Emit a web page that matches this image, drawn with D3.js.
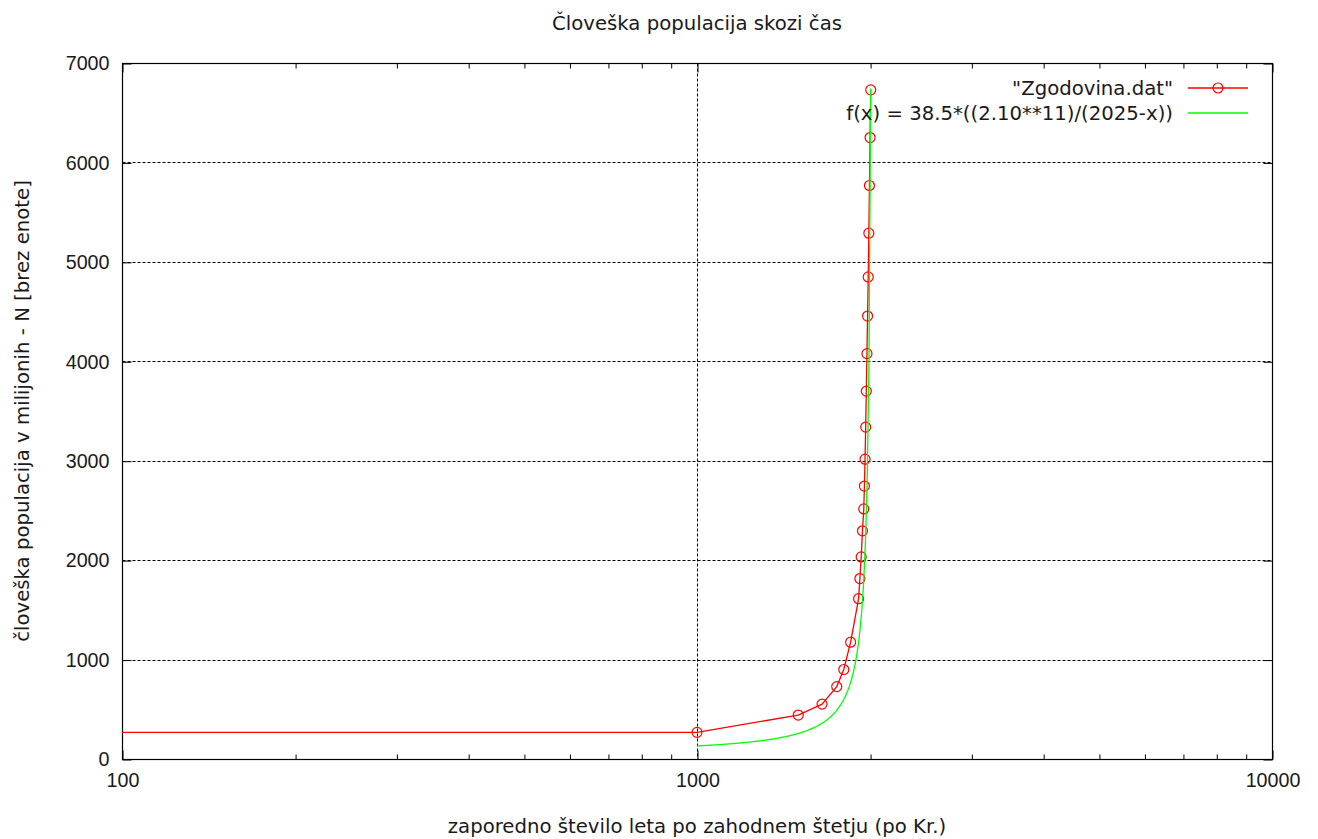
<!DOCTYPE html>
<html>
<head>
<meta charset="utf-8">
<script src="https://cdn.jsdelivr.net/npm/d3@7"></script>
<style>
  html, body { margin: 0; padding: 0; background: #fff; }
  svg { display: block; font-family: "DejaVu Sans", sans-serif; }
</style>
</head>
<body>
<svg id="chart" width="1318" height="839"></svg>
<script>
// Historical world population (millions) by year, from Zgodovina.dat
const years = [1, 1000, 1500, 1650, 1750, 1800, 1850, 1910, 1920, 1930, 1940,
               1950, 1955, 1960, 1965, 1970, 1975, 1980, 1985, 1990, 1995, 2000, 2005];
const population = [268, 268, 442, 552, 728, 900, 1175, 1612, 1815, 2032, 2295,
                     2515, 2745, 3015, 3338, 3700, 4077, 4455, 4848, 5288, 5768, 6250, 6730];

// Hyperbolic growth model and the interval it is sampled over
const fitCoef = 38.5, fitBase = 2.10, fitExp = 11, fitYear = 2025;
const fitStart = 1000, fitEnd = 2005, fitSamples = 100;
const fitLabel = "f(x) = 38.5*((2.10**11)/(2025-x))";
const dataLabel = "\"Zgodovina.dat\"";

const xDomain = [100, 10000];
const yDomain = [0, 7000];
const yTicks = [0, 1000, 2000, 3000, 4000, 5000, 6000, 7000];
const xMajorTicks = [100, 1000, 10000];

const title = "Človeška populacija skozi čas";
const xTitle = "zaporedno število leta po zahodnem štetju (po Kr.)";
const yTitle = "človeška populacija v milijonih - N [brez enote]";

const W = 1318, H = 839;
const plot = { left: 122, right: 1272, top: 63, bottom: 759 };
const fontSize = 19.7;

const svg = d3.select("#chart");

const x = d3.scaleLog().domain(xDomain).range([plot.left, plot.right]);
const y = d3.scaleLinear().domain(yDomain).range([plot.bottom, plot.top]);

const f = t => fitCoef * Math.pow(fitBase, fitExp) / (fitYear - t);

// clip region for the plotted curves
svg.append("defs").append("clipPath").attr("id", "plotClip")
  .append("rect")
  .attr("x", plot.left).attr("y", plot.top)
  .attr("width", plot.right - plot.left).attr("height", plot.bottom - plot.top);

const g = svg.append("g").attr("transform", "translate(0.5,0.5)");

// horizontal grid lines
g.append("g").selectAll("line")
  .data(yTicks.filter(v => v > yDomain[0] && v < yDomain[1]))
  .join("line")
  .attr("x1", plot.left).attr("x2", plot.right)
  .attr("y1", d => Math.round(y(d))).attr("y2", d => Math.round(y(d)))
  .attr("stroke", "#000").attr("stroke-width", 1)
  .attr("stroke-dasharray", "3,2");

// vertical grid lines at interior decades
g.append("g").selectAll("line")
  .data(xMajorTicks.filter(v => v > xDomain[0] && v < xDomain[1]))
  .join("line")
  .attr("x1", d => Math.round(x(d))).attr("x2", d => Math.round(x(d)))
  .attr("y1", plot.top).attr("y2", plot.bottom)
  .attr("stroke", "#000").attr("stroke-width", 1)
  .attr("stroke-dasharray", "3,2");

// axes: ticks point inward and are mirrored on the opposite side
const majorLen = 9, minorLen = 5;
const minorTicks = x.ticks().filter(v => !xMajorTicks.includes(v));

function tickAxis(axisGen, transform) {
  const a = g.append("g").attr("transform", transform).call(axisGen);
  a.select(".domain").remove();
  a.selectAll("line").attr("stroke", "#000").attr("stroke-width", 1);
  return a;
}

// bottom
const xb = tickAxis(d3.axisBottom(x).tickValues(xMajorTicks).tickSize(-majorLen)
  .tickPadding(14).tickFormat(d3.format("d")), `translate(0,${plot.bottom})`);
xb.selectAll("text").attr("font-size", fontSize).attr("fill", "#1a1a1a");
tickAxis(d3.axisBottom(x).tickValues(minorTicks).tickSize(-minorLen).tickFormat(""),
  `translate(0,${plot.bottom})`);
// top
tickAxis(d3.axisTop(x).tickValues(xMajorTicks).tickSize(-majorLen).tickFormat(""),
  `translate(0,${plot.top})`);
tickAxis(d3.axisTop(x).tickValues(minorTicks).tickSize(-minorLen).tickFormat(""),
  `translate(0,${plot.top})`);
// left
const yl = tickAxis(d3.axisLeft(y).tickValues(yTicks).tickSize(-majorLen)
  .tickPadding(13).tickFormat(d3.format("d")), `translate(${plot.left},0)`);
yl.selectAll("text").attr("font-size", fontSize).attr("fill", "#1a1a1a");
// right
tickAxis(d3.axisRight(y).tickValues(yTicks).tickSize(-majorLen).tickFormat(""),
  `translate(${plot.right},0)`);

// border
g.append("rect")
  .attr("x", plot.left).attr("y", plot.top)
  .attr("width", plot.right - plot.left).attr("height", plot.bottom - plot.top)
  .attr("fill", "none").attr("stroke", "#000").attr("stroke-width", 1.2);

// data series
const pts = years.map((yr, i) => [yr, population[i]]);
const line = d3.line().x(d => x(d[0])).y(d => y(d[1]));
const series = svg.append("g").attr("clip-path", "url(#plotClip)");

series.append("path").datum(pts)
  .attr("d", line)
  .attr("fill", "none").attr("stroke", "#ff0000").attr("stroke-width", 1.3);

series.append("g").selectAll("circle").data(pts).join("circle")
  .attr("cx", d => x(d[0])).attr("cy", d => y(d[1])).attr("r", 5)
  .attr("fill", "none").attr("stroke", "#ff0000").attr("stroke-width", 1.2);

// model curve, sampled evenly on the log axis
const lx0 = Math.log10(fitStart), lx1 = Math.log10(fitEnd);
const fitPts = d3.range(fitSamples).map(i => {
  const t = Math.pow(10, lx0 + (lx1 - lx0) * i / (fitSamples - 1));
  return [t, f(t)];
});
series.append("path").datum(fitPts)
  .attr("d", line)
  .attr("fill", "none").attr("stroke", "#00ff00").attr("stroke-width", 1.3);

// legend
const key = svg.append("g");
const keyTextX = 1173, keySampleX0 = 1188, keySampleX1 = 1248;
const keyRows = [
  { label: dataLabel, color: "#ff0000", marker: true, yPos: 88 },
  { label: fitLabel, color: "#00ff00", marker: false, yPos: 113 }
];
keyRows.forEach(r => {
  key.append("text")
    .attr("x", keyTextX).attr("y", r.yPos).attr("dy", "0.35em")
    .attr("text-anchor", "end").attr("font-size", fontSize).attr("fill", "#1a1a1a")
    .text(r.label);
  key.append("line")
    .attr("x1", keySampleX0).attr("x2", keySampleX1)
    .attr("y1", r.yPos).attr("y2", r.yPos)
    .attr("stroke", r.color).attr("stroke-width", 1.3);
  if (r.marker) {
    key.append("circle")
      .attr("cx", (keySampleX0 + keySampleX1) / 2).attr("cy", r.yPos).attr("r", 5)
      .attr("fill", "none").attr("stroke", r.color).attr("stroke-width", 1.2);
  }
});

// titles
svg.append("text")
  .attr("x", (plot.left + plot.right) / 2).attr("y", 23).attr("dy", "0.35em")
  .attr("text-anchor", "middle").attr("font-size", fontSize).attr("fill", "#1a1a1a")
  .text(title);

svg.append("text")
  .attr("x", (plot.left + plot.right) / 2).attr("y", 826).attr("dy", "0.35em")
  .attr("text-anchor", "middle").attr("font-size", fontSize).attr("fill", "#1a1a1a")
  .text(xTitle);

svg.append("text")
  .attr("transform", `translate(22,${(plot.top + plot.bottom) / 2}) rotate(-90)`)
  .attr("dy", "0.35em")
  .attr("text-anchor", "middle").attr("font-size", fontSize).attr("fill", "#1a1a1a")
  .text(yTitle);
</script>
</body>
</html>
